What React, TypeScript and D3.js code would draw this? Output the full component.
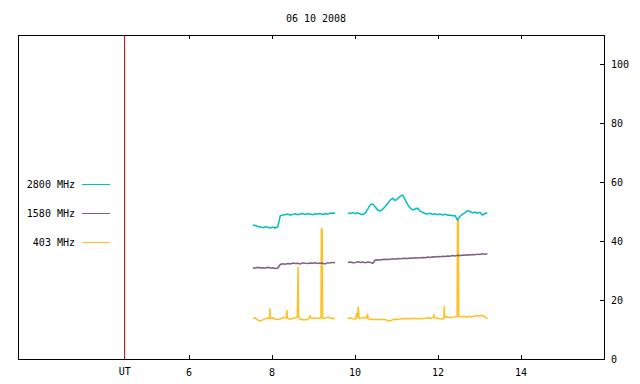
import React, { useEffect, useRef } from "react";
import * as d3 from "d3";

// time axis (UT hours) and flux axis
const xTicks = [6, 8, 10, 12, 14];
const yTicks = [0, 20, 40, 60, 80, 100];
const utMark = 4.45;
const title = "06 10 2008";

const legendLabels = ["2800 MHz", "1580 MHz", "403 MHz"];
const colors = ["#00c0c0", "#806080", "#ffc020"];

// 2800 MHz, sampled every 0.06 h
const s2800a = [
  45.5, 45.3, 45.0, 44.8, 44.6, 44.9, 44.7, 44.5, 44.8, 44.4, 44.9,
  48.6, 48.9, 49.0, 49.2, 48.8, 49.1, 49.3, 49.0, 49.2, 49.4, 49.1, 49.3,
  49.2, 49.0, 49.3, 49.2, 49.4, 49.1, 49.3, 49.2, 49.5, 49.6, 49.5,
];
const s2800b = [
  49.6, 49.4, 49.7, 49.3, 49.6, 49.2, 49.0, 49.6, 51.0, 52.4, 52.6, 51.6,
  50.5, 50.3, 50.9, 51.8, 52.9, 54.0, 54.6, 53.8, 54.5, 55.2, 55.7, 54.0,
  52.4, 51.3, 50.6, 50.9, 51.2, 50.2, 49.8, 49.4, 49.2, 49.5, 49.1, 49.3,
  49.0, 49.2, 48.9, 49.1, 48.8, 48.9, 48.6, 48.7, 47.2, 48.4, 49.2, 49.6,
  50.4, 50.1, 49.6, 49.9, 49.5, 49.8, 48.9, 49.4, 49.6,
];

// 1580 MHz, same sampling
const s1580a = [
  31.0, 30.8, 31.1, 30.9, 31.0, 30.8, 31.1, 30.9, 31.0, 30.7, 30.9,
  32.1, 32.3, 32.2, 32.4, 32.3, 32.6, 32.4, 32.5, 32.3, 32.7, 32.5, 32.4,
  32.6, 32.5, 32.7, 32.4, 32.6, 32.5, 32.3, 32.7, 32.6, 32.8, 32.7,
];
const s1580b = [
  32.8, 32.9, 32.7, 32.8, 33.0, 32.8, 32.9, 32.7, 32.9, 32.8, 32.5,
  33.6, 33.7, 33.6, 33.8, 33.9, 33.8, 33.9, 34.0, 33.9, 34.1, 34.0, 34.1,
  34.2, 34.1, 34.3, 34.2, 34.4, 34.3, 34.4, 34.5, 34.4, 34.6, 34.5, 34.7,
  34.6, 34.8, 34.7, 34.9, 34.8, 35.0, 34.9, 35.1, 35.0, 35.2, 35.1, 35.3,
  35.2, 35.4, 35.3, 35.5, 35.4, 35.6, 35.5, 35.7, 35.6, 35.7,
];

// 403 MHz, [hour, value] with narrow bursts
const s403a = [
  [7.54, 13.8], [7.6, 13.9], [7.66, 13.2], [7.72, 12.9], [7.78, 13.3], [7.84, 13.7],
  [7.9, 13.9], [7.94, 13.8], [7.95, 17.2], [7.96, 13.9], [8.02, 14.0], [8.08, 13.5],
  [8.14, 13.4], [8.2, 13.6], [8.26, 14.0], [8.32, 14.1], [8.35, 14.0], [8.36, 16.6],
  [8.37, 13.9], [8.43, 13.5], [8.49, 13.7], [8.55, 13.9], [8.61, 14.3], [8.63, 31.3],
  [8.64, 14.5], [8.68, 13.5], [8.74, 13.3], [8.8, 13.3], [8.86, 13.4], [8.92, 14.6],
  [8.94, 13.8], [9.0, 13.8], [9.06, 13.8], [9.12, 13.8], [9.18, 13.9], [9.19, 44.1],
  [9.21, 44.0], [9.22, 13.9], [9.28, 13.8], [9.34, 14.2], [9.4, 14.0], [9.46, 13.7],
  [9.52, 13.8],
];
const s403b = [
  [9.83, 13.8], [9.89, 13.9], [9.95, 13.7], [10.02, 13.6], [10.04, 15.6], [10.06, 14.0],
  [10.08, 17.8], [10.1, 13.8], [10.16, 13.9], [10.22, 14.1], [10.28, 14.0], [10.3, 15.3],
  [10.32, 13.6], [10.38, 13.5], [10.44, 13.4], [10.5, 13.4], [10.56, 13.4], [10.62, 13.4],
  [10.68, 13.4], [10.74, 13.3], [10.8, 13.0], [10.86, 13.0], [10.92, 13.4], [10.98, 13.5],
  [11.04, 13.4], [11.1, 13.7], [11.16, 13.6], [11.22, 13.8], [11.28, 13.6], [11.34, 13.8],
  [11.4, 13.7], [11.46, 13.8], [11.52, 13.6], [11.58, 13.8], [11.64, 13.7], [11.7, 13.8],
  [11.76, 14.0], [11.82, 13.8], [11.88, 14.1], [11.9, 14.9], [11.92, 14.0], [11.98, 13.9],
  [12.04, 13.7], [12.1, 13.6], [12.14, 13.8], [12.15, 18.0], [12.16, 14.2], [12.22, 14.3],
  [12.28, 14.0], [12.34, 14.1], [12.4, 14.3], [12.46, 14.4], [12.47, 46.9], [12.49, 46.9],
  [12.5, 14.6], [12.56, 14.3], [12.62, 14.5], [12.68, 14.1], [12.74, 14.6], [12.8, 14.3],
  [12.86, 14.5], [12.92, 14.8], [12.98, 14.6], [13.04, 14.8], [13.1, 14.6], [13.16, 14.0],
  [13.19, 13.6],
];

const sampled = (values: number[], start: number) =>
  values.map((v, i) => [start + i * 0.06, v]);

const App = () => {
  const svgRef = useRef<SVGSVGElement>(null);

  useEffect(() => {
    const svg = d3.select(svgRef.current);
    svg.selectAll("*").remove();

    const margin = { top: 35, right: 36, bottom: 25, left: 18 };
    const width = 640;
    const height = 384;
    const font = "DejaVu Sans Mono, monospace";

    const xScale = d3
      .scaleLinear()
      .domain([1.88, 16])
      .range([margin.left, width - margin.right]);

    const yScale = d3
      .scaleLinear()
      .domain([0, 110])
      .range([height - margin.bottom, margin.top]);

    const x0 = margin.left;
    const x1 = width - margin.right;
    const y0 = height - margin.bottom;
    const y1 = margin.top;

    // title
    svg
      .append("text")
      .attr("x", 316)
      .attr("y", 22)
      .attr("text-anchor", "middle")
      .style("font-family", font)
      .style("font-size", "10px")
      .text(title);

    // UT marker
    svg
      .append("line")
      .attr("x1", xScale(utMark))
      .attr("x2", xScale(utMark))
      .attr("y1", y0)
      .attr("y2", y1)
      .attr("stroke", "#a00000")
      .attr("stroke-width", 1);

    // data lines
    const line = d3
      .line()
      .x((d) => xScale(d[0]))
      .y((d) => yScale(d[1]));

    const series = [
      [sampled(s2800a, 7.54), sampled(s2800b, 9.83)],
      [sampled(s1580a, 7.54), sampled(s1580b, 9.83)],
      [s403a, s403b],
    ];

    // draw 403 first, then 1580, then 2800 on top
    [2, 1, 0].forEach((k) => {
      series[k].forEach((seg) => {
        svg
          .append("path")
          .attr("d", line(seg as [number, number][]))
          .attr("fill", "none")
          .attr("stroke", colors[k])
          .attr("stroke-width", 1.5);
      });
    });

    // frame
    svg
      .append("rect")
      .attr("x", x0 + 0.5)
      .attr("y", y1 + 0.5)
      .attr("width", x1 - x0)
      .attr("height", y0 - y1)
      .attr("fill", "none")
      .attr("stroke", "black")
      .attr("stroke-width", 1);

    // x ticks (bottom and top, inward)
    xTicks.forEach((t) => {
      const x = Math.round(xScale(t)) + 0.5;
      svg.append("line").attr("x1", x).attr("x2", x).attr("y1", y0).attr("y2", y0 - 4).attr("stroke", "black");
      svg.append("line").attr("x1", x).attr("x2", x).attr("y1", y1).attr("y2", y1 + 4).attr("stroke", "black");
      svg
        .append("text")
        .attr("x", xScale(t))
        .attr("y", y0 + 17)
        .attr("text-anchor", "middle")
        .style("font-family", font)
        .style("font-size", "10px")
        .text(t);
    });

    svg
      .append("text")
      .attr("x", xScale(utMark))
      .attr("y", y0 + 16)
      .attr("text-anchor", "middle")
      .style("font-family", font)
      .style("font-size", "10px")
      .text("UT");

    // right y axis
    yTicks.forEach((t) => {
      const y = Math.round(yScale(t)) + 0.5;
      if (t > 0) {
        svg.append("line").attr("x1", x1).attr("x2", x1 - 4).attr("y1", y).attr("y2", y).attr("stroke", "black");
      }
      svg
        .append("text")
        .attr("x", x1 + 7)
        .attr("y", yScale(t) + 4)
        .style("font-family", font)
        .style("font-size", "10px")
        .text(t);
    });

    // legend
    legendLabels.forEach((label, i) => {
      const y = 184 + i * 29;
      svg
        .append("text")
        .attr("x", 75)
        .attr("y", y + 4)
        .attr("text-anchor", "end")
        .style("font-family", font)
        .style("font-size", "10px")
        .text(label);
      svg
        .append("line")
        .attr("x1", 82)
        .attr("x2", 110)
        .attr("y1", y + 0.5)
        .attr("y2", y + 0.5)
        .attr("stroke", colors[i])
        .attr("stroke-width", 1);
    });
  }, []);

  return (
    <svg
      ref={svgRef}
      width={640}
      height={384}
      style={{ position: "absolute", left: 0, top: 0, background: "white" }}
    ></svg>
  );
};

export default App;
